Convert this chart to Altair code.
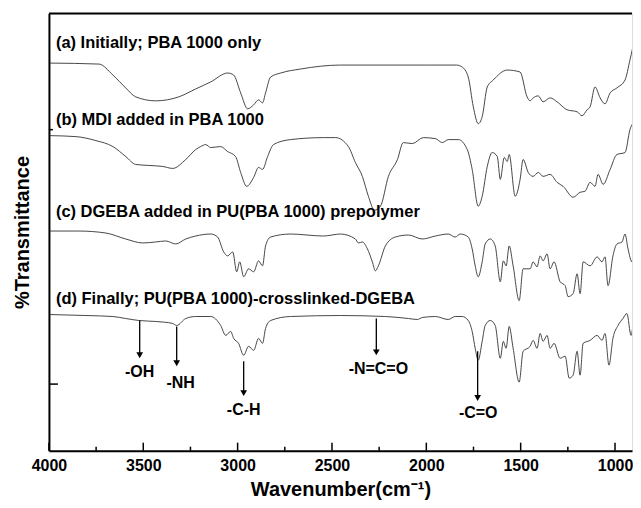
import altair as alt
import pandas as pd

F = "Liberation Sans"

# ---- spectra (wavenumber cm-1, transmittance in arbitrary stacked units) ----
a_wn = [3995, 3735, 3661, 3593, 3540, 3434, 3312, 3222, 3143, 3053, 3021, 2984, 2947, 2915, 2889, 2868, 2852, 2825,
        2772, 2667, 2455, 2000, 1840, 1810, 1778, 1751, 1725, 1704, 1677, 1645, 1571, 1503, 1466, 1450, 1434, 1407,
        1381, 1344, 1307, 1254, 1201, 1175, 1148, 1132, 1106, 1079, 1053, 1026, 990, 947, 921, 894, 878, 862]
a_t = [390, 389, 378, 365, 356, 352, 356, 364, 371, 380, 378, 360, 344, 348, 353, 350, 360, 376,
       380, 384, 388, 388, 388, 386, 376, 346, 329, 336, 366, 373, 383, 381, 356, 352, 355, 357,
       351, 355, 351, 343, 341, 337, 343, 346, 366, 355, 349, 360, 365, 373, 393, 415, 425, 438]

b_wn = [3995, 3857, 3751, 3661, 3593, 3540, 3471, 3397, 3344, 3275, 3222, 3196, 3169, 3143, 3090, 3053, 3011, 2984,
        2952, 2915, 2889, 2868, 2841, 2810, 2720, 2545, 2481, 2413, 2376, 2339, 2307, 2275, 2243, 2201, 2153, 2122,
        2074, 2016, 1952, 1915, 1884, 1831, 1783, 1757, 1725, 1704, 1677, 1651, 1624, 1608, 1587, 1571, 1561, 1529,
        1503, 1487, 1460, 1434, 1407, 1381, 1344, 1307, 1275, 1222, 1185, 1159, 1132, 1106, 1090, 1063, 1026, 990,
        947, 921, 894, 878, 862]
b_t = [317, 316, 312, 306, 296, 288, 287, 286, 284, 293, 303, 306, 308, 305, 306, 301, 296, 280,
       266, 275, 285, 283, 296, 308, 313, 315, 315, 306, 290, 276, 256, 242, 246, 276, 293, 310,
       309, 315, 314, 310, 313, 313, 303, 283, 246, 256, 286, 300, 296, 273, 295, 291, 298, 256,
       273, 293, 280, 276, 280, 276, 278, 270, 266, 255, 260, 261, 270, 266, 278, 268, 283, 298,
       300, 323, 333, 341, 345]

c_wn = [3995, 3841, 3698, 3593, 3503, 3434, 3381, 3328, 3275, 3222, 3143, 3106, 3074, 3053, 3026, 3005, 2989, 2968,
        2942, 2915, 2889, 2868, 2852, 2825, 2720, 2545, 2455, 2376, 2360, 2339, 2312, 2286, 2270, 2254, 2217, 2164,
        2095, 2021, 1952, 1884, 1847, 1820, 1778, 1757, 1741, 1725, 1704, 1688, 1661, 1635, 1608, 1592, 1577, 1561,
        1540, 1508, 1487, 1450, 1434, 1413, 1397, 1381, 1360, 1344, 1323, 1291, 1264, 1249, 1222, 1201, 1185, 1169,
        1132, 1095, 1069, 1053, 1037, 1011, 990, 963, 947, 931, 910, 894, 884, 878, 862]
c_t = [221, 221, 219, 213, 209, 210, 211, 208, 213, 216, 218, 215, 200, 196, 200, 180, 190, 175,
       183, 180, 191, 186, 206, 215, 218, 216, 218, 213, 209, 210, 203, 190, 181, 186, 206, 215,
       217, 213, 216, 218, 215, 218, 215, 203, 186, 175, 190, 208, 213, 206, 170, 191, 186, 206,
       186, 151, 183, 183, 190, 185, 196, 191, 198, 183, 190, 170, 166, 155, 158, 178, 158, 190,
       186, 195, 190, 195, 166, 196, 208, 210, 218, 203, 190, 238, 246, 238, 213]

d_wn = [3995, 3804, 3661, 3593, 3524, 3434, 3344, 3323, 3275, 3222, 3143, 3090, 3063, 3037, 3021, 2995, 2968, 2942,
        2915, 2889, 2868, 2852, 2825, 2720, 2455, 2217, 2095, 2048, 2021, 1952, 1884, 1847, 1810, 1778, 1757, 1741,
        1725, 1704, 1688, 1661, 1635, 1608, 1592, 1577, 1561, 1540, 1508, 1487, 1450, 1434, 1413, 1397, 1381, 1360,
        1344, 1323, 1291, 1264, 1243, 1222, 1201, 1185, 1169, 1132, 1095, 1069, 1053, 1032, 1011, 984, 958, 937,
        915, 894, 878, 862]
d_t = [137, 136, 135, 133, 131, 130, 128, 126, 133, 135, 135, 126, 116, 120, 113, 108, 96, 105,
       101, 113, 108, 123, 131, 135, 136, 135, 133, 132, 134, 135, 132, 135, 135, 131, 120, 103,
       91, 110, 126, 131, 126, 93, 110, 103, 125, 103, 69, 100, 105, 111, 103, 118, 110, 116,
       103, 108, 93, 95, 73, 76, 100, 76, 108, 111, 116, 111, 118, 86, 113, 126, 133, 138,
       116, 146, 163, 165]

# ---- trace captions ----
cap_text = ["(a) Initially; PBA 1000 only", "(b) MDI added in PBA 1000",
            "(c) DGEBA added in PU(PBA 1000) prepolymer", "(d) Finally; PU(PBA 1000)-crosslinked-DGEBA"]
cap_wn = [3963, 3963, 3963, 3963]
cap_t = [410, 333, 240, 153]

# ---- band assignments (arrows) ----
ann_text = ["-OH", "-NH", "-C-H", "-N=C=O", "-C=O"]
ann_wn = [3519, 3323, 2968, 2265, 1728]
ann_start = [131, 125, 90, 133, 100]
ann_end = [96, 88, 58, 99, 53]
ann_label_wn = [3519, 3302, 2968, 2254, 1725]
ann_label_t = [79, 68, 41, 82, 38]

# ---- axis ticks ----
x_major = [4000, 3500, 3000, 2500, 2000, 1500, 1000]
x_minor = [3750, 3250, 2750, 2250, 1750, 1250]
y_major = [67]
y_minor = [323]

W, H = 584, 438

rows = []
for name, wn, t in [("a", a_wn, a_t), ("b", b_wn, b_t), ("c", c_wn, c_t), ("d", d_wn, d_t)]:
    rows += [{"trace": name, "wn": w, "t": v} for w, v in zip(wn, t)]
spec = pd.DataFrame(rows)
caps = pd.DataFrame({"text": cap_text, "wn": cap_wn, "t": cap_t})
ann = pd.DataFrame({"text": ann_text, "wn": ann_wn, "t0": ann_start, "t1": ann_end,
                    "lwn": ann_label_wn, "lt": ann_label_t})

xscale = alt.Scale(domain=[4000, 910], nice=False, zero=False)
yscale = alt.Scale(domain=[0, 440], nice=False, zero=False)
xaxis = alt.Axis(values=x_major, format="d", ticks=False, grid=False, domainColor="black", domainWidth=2,
                 labelFont=F, labelFontSize=16, labelFontWeight="bold", labelColor="black", labelPadding=7,
                 labelFlush=False, title="Wavenumber(cm\u207b\u00b9)", titleFont=F, titleFontSize=20,
                 titleFontWeight="bold", titleColor="black", titlePadding=6)
yaxis = alt.Axis(labels=False, ticks=False, grid=False, domainColor="black", domainWidth=2,
                 title="%Transmittance", titleFont=F, titleFontSize=20, titleFontWeight="bold",
                 titleColor="black", titlePadding=16)


def X(field):
    return alt.X(field, type="quantitative", scale=xscale, axis=xaxis)


def Y(field):
    return alt.Y(field, type="quantitative", scale=yscale, axis=yaxis)


lines = alt.Chart(spec).mark_line(color="#333333", strokeWidth=0.9, clip=True,
                                  interpolate="monotone").encode(
    x=X("wn"), y=Y("t"), detail="trace:N")

captions = alt.Chart(caps).mark_text(align="left", baseline="middle", font=F, fontSize=16.5,
                                     fontWeight="bold", color="black").encode(
    x=X("wn"), y=Y("t"), text="text:N")

arrows = alt.Chart(ann).mark_rule(color="black", strokeWidth=1.3).encode(
    x=X("wn"), y=Y("t0"), y2="t1")
heads = alt.Chart(ann).mark_point(shape="triangle-down", filled=True, size=45, color="black",
                                  opacity=1).encode(x=X("wn"), y=Y("t1"))
ann_labels = alt.Chart(ann).mark_text(align="center", baseline="middle", font=F, fontSize=16,
                                      fontWeight="bold", color="black").encode(
    x=X("lwn"), y=Y("lt"), text="text:N")

xmaj = alt.Chart(pd.DataFrame({"v": x_major})).mark_rule(color="black", strokeWidth=1.5).encode(
    x=X("v"), y=alt.value(H), y2=alt.value(H - 8))
xmin = alt.Chart(pd.DataFrame({"v": x_minor})).mark_rule(color="black", strokeWidth=1.5).encode(
    x=X("v"), y=alt.value(H), y2=alt.value(H - 4))
ymaj = alt.Chart(pd.DataFrame({"v": y_major})).mark_rule(color="black", strokeWidth=1.5).encode(
    y=Y("v"), x=alt.value(0), x2=alt.value(9))
ymin = alt.Chart(pd.DataFrame({"v": y_minor})).mark_rule(color="black", strokeWidth=1.5).encode(
    y=Y("v"), x=alt.value(0), x2=alt.value(4))
top = alt.Chart(pd.DataFrame({"v": [0]})).mark_rule(color="black", strokeWidth=2).encode(
    x=alt.value(0), x2=alt.value(W), y=alt.value(0))

chart = alt.layer(lines, captions, arrows, heads, ann_labels, xmaj, xmin, ymaj, ymin, top).properties(
    width=W, height=H, padding={"left": 5, "top": 4, "right": 0, "bottom": 0}
).configure_view(strokeWidth=0).configure(background="white")

chart.save("out.html", embed_options={"renderer": "svg", "actions": False})
